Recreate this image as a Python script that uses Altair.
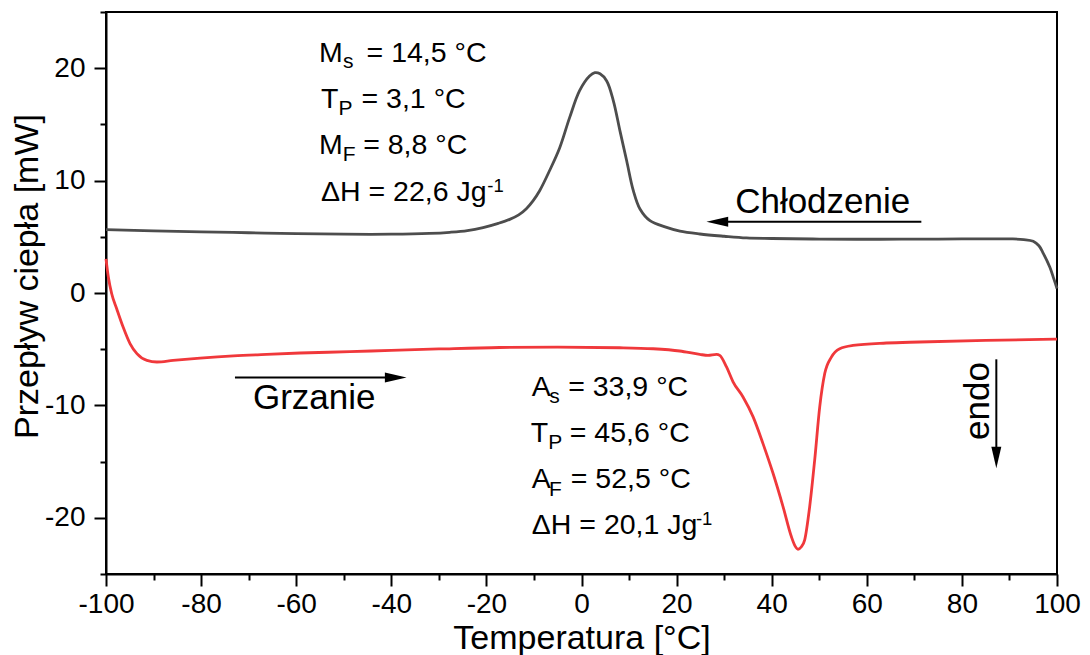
import altair as alt
import pandas as pd

FONT = "Liberation Sans"

# ---- data ----
cool_temp = [-100, -90, -80, -70, -60, -50, -40, -32, -27.7, -24, -20.7, -17.5, -15.1,
             -13.2, -11.6, -10.2, -8.8, -6.7, -4.6, -2.5, -0.4, 1.7, 2.8, 3.9, 5.3, 6.7,
             8.1, 9.5, 10.9, 12.3, 14.4, 17.9, 20.7, 24.9, 30, 34.7, 40, 50, 62.7, 75,
             90.7, 93, 95, 96.2, 97, 98.5, 99.3, 100]
cool_flow = [5.63, 5.53, 5.44, 5.36, 5.28, 5.23, 5.23, 5.3, 5.4, 5.55, 5.82, 6.2, 6.55,
             6.95, 7.5, 8.2, 9.1, 10.9, 12.9, 15.6, 18.0, 19.3, 19.6, 19.5, 18.86, 17.1,
             14.4, 11.76, 9.1, 7.47, 6.43, 5.84, 5.5, 5.25, 5.05, 4.9, 4.85, 4.8, 4.78, 4.8,
             4.81, 4.75, 4.6, 4.2, 3.62, 2.29, 1.3, 0.4]

heat_temp = [-100, -99.5, -98.8, -97.75, -96.4, -94.95, -93.5, -91.4, -89.3, -85.9, -80.2,
             -73.2, -66.2, -59.2, -48.7, -40, -30, -17.2, -5, 8.05, 15.05, 20.66, 24.87,
             26.6, 28.4, 29.07, 30.5, 31.87, 33.97, 36.07, 38.17, 40.28, 42.38, 44.13,
             44.9, 45.53, 46.2, 46.94, 47.99, 49.04, 50.1, 51.15, 52.55, 54.3, 57.1, 64.1,
             71.1, 85, 100]
heat_flow = [3.03, 1.4, -0.07, -1.4, -3.03, -4.5, -5.4, -6.0, -6.14, -6.0, -5.8,
             -5.6, -5.46, -5.34, -5.22, -5.1, -4.98, -4.85, -4.82, -4.87, -4.96, -5.16, -5.46,
             -5.55, -5.46, -5.55, -6.58, -7.9, -9.25, -11.0, -13.4, -16.04, -19.0, -21.67,
             -22.5, -22.8, -22.6, -21.96, -19.0, -14.86, -10.13, -7.17, -5.7, -4.95, -4.66, -4.45,
             -4.36, -4.22, -4.1]

x_major = [-100, -80, -60, -40, -20, 0, 20, 40, 60, 80, 100]
x_minor = [-90, -70, -50, -30, -10, 10, 30, 50, 70, 90]
y_major = [-20, -10, 0, 10, 20]
y_minor = [-25, -15, -5, 5, 15, 25]

# annotation texts (position in data units, font size)
note_text = ["M", "s", "= 14,5 °C",
             "T", "P", "= 3,1 °C",
             "M", "F", "= 8,8 °C",
             "ΔH = 22,6 Jg", "-1",
             "A", "s", "= 33,9 °C",
             "T", "P", "= 45,6 °C",
             "A", "F", "= 52,5 °C",
             "ΔH = 20,1 Jg", "-1",
             "Chłodzenie", "Grzanie"]
note_x = [-55.22, -50.17, -45.2,
          -54.80, -51.12, -46.26,
          -55.22, -50.22, -45.91,
          -54.80, -19.80,
          -10.45, -6.79, -2.8,
          -10.66, -6.98, -2.46,
          -10.45, -6.83, -2.25,
          -10.45, 24.07,
          32.31, -69.1]
note_y = [20.54, 19.99, 20.54,
          16.49, 15.84, 16.49,
          12.38, 11.76, 12.38,
          8.21, 9.01,
          -9.18, -9.83, -9.18,
          -13.24, -13.91, -13.24,
          -17.37, -18.05, -17.37,
          -21.43, -20.63,
          7.08, -10.36]
note_size = [28.5, 21, 28.5,
             28.5, 21, 28.5,
             28.5, 21, 28.5,
             28.5, 18.5,
             28.5, 21, 28.5,
             28.5, 21, 28.5,
             28.5, 21, 28.5,
             28.5, 18.5,
             35, 35]

# arrows: shaft from (x, y) to (x2, y2); head tip positions
arrow_x = [71.47, -72.88, 87.24]
arrow_x2 = [29.0, -39.0, 87.24]
arrow_y = [6.34, -7.52, -5.90]
arrow_y2 = [6.34, -7.52, -14.5]
tip_x = [26.28, -36.79, 87.24]
tip_y = [6.34, -7.52, -15.6]
tip_shape = ["M0,0L1,-0.23L1,0.23Z", "M0,0L-1,-0.23L-1,0.23Z", "M0,0L-0.23,-1L0.23,-1Z"]

cool = pd.DataFrame({"x": cool_temp, "y": cool_flow})
heat = pd.DataFrame({"x": heat_temp, "y": heat_flow})
notes = pd.DataFrame({"x": note_x, "y": note_y, "text": note_text, "size": note_size})
arrows = pd.DataFrame({"x": arrow_x, "x2": arrow_x2, "y": arrow_y, "y2": arrow_y2})
tips = pd.DataFrame({"x": tip_x, "y": tip_y, "shape": tip_shape})
endo = pd.DataFrame({"x": [85.68], "y": [-9.61], "text": ["endo"]})

xs = alt.Scale(domain=[-100, 100], nice=False, zero=False)
ys = alt.Scale(domain=[-25, 25], nice=False, zero=False)

x_axis = alt.Axis(
    values=x_major, orient="bottom", grid=False,
    tickSize=12, tickWidth=2, tickColor="black", domainColor="black", domainWidth=2,
    labelExpr="'' + datum.value",
    labelFont=FONT, labelFontSize=28, labelColor="black", labelPadding=26,
    labelBaseline="alphabetic", labelFlush=False, labelOverlap=False,
    title="Temperatura [°C]", titleFont=FONT, titleFontSize=34, titleFontWeight="normal",
    titleColor="black", titleY=74, titleBaseline="alphabetic",
)
y_axis = alt.Axis(
    values=y_major, orient="left", grid=False,
    tickSize=12, tickWidth=2, tickColor="black", domainColor="black", domainWidth=2,
    labelExpr="'' + datum.value",
    labelFont=FONT, labelFontSize=28, labelColor="black", labelPadding=9,
    labelBaseline="middle", labelFlush=False, labelOverlap=False,
    title="Przepływ ciepła [mW]", titleFont=FONT, titleFontSize=34, titleFontWeight="normal",
    titleColor="black", titleX=-69, titleY=264, titleAngle=270, titleAlign="center",
    titleBaseline="alphabetic",
)
x_minor_axis = alt.Axis(values=x_minor, orient="bottom", grid=False, tickSize=6, tickWidth=2,
                        tickColor="black", labels=False, domain=False, title=None)
y_minor_axis = alt.Axis(values=y_minor, orient="left", grid=False, tickSize=6, tickWidth=2,
                        tickColor="black", labels=False, domain=False, title=None)

X = alt.X("x:Q", scale=xs, axis=x_axis)
Y = alt.Y("y:Q", scale=ys, axis=y_axis)

minor = alt.Chart(cool).mark_line(opacity=0).encode(
    x=alt.X("x:Q", scale=xs, axis=x_minor_axis),
    y=alt.Y("y:Q", scale=ys, axis=y_minor_axis),
)

cool_line = alt.Chart(cool).mark_line(color="#4d4d4d", strokeWidth=2.8,
                                      interpolate="catmull-rom").encode(x=X, y=Y)
heat_line = alt.Chart(heat).mark_line(color="#f0383b", strokeWidth=2.8,
                                      interpolate="monotone").encode(x=X, y=Y)
shafts = alt.Chart(arrows).mark_rule(color="black", strokeWidth=2).encode(x=X, x2="x2:Q", y=Y, y2="y2:Q")
heads = alt.Chart(tips).mark_point(filled=True, color="black", opacity=1, size=1884, strokeWidth=0).encode(
    x=X, y=Y, shape=alt.Shape("shape:N", scale=None, legend=None),
)
texts = alt.Chart(notes).mark_text(align="left", baseline="alphabetic", font=FONT, color="black").encode(
    x=X, y=Y, text="text:N", size=alt.Size("size:Q", scale=None, legend=None),
)
endo_text = alt.Chart(endo).mark_text(align="center", baseline="alphabetic", angle=270, font=FONT,
                                      fontSize=35, color="black").encode(x=X, y=Y, text="text:N")

main = alt.layer(cool_line, heat_line, shafts, heads, texts, endo_text)

chart = alt.layer(minor, main).resolve_axis(x="independent", y="independent").properties(
    width=951, height=562,
    padding={"left": 106, "top": 12, "right": 33, "bottom": 81},
    autosize=alt.AutoSizeParams(type="none"),
    background="white",
).configure_view(stroke="black", strokeWidth=2)

chart.save("out.html", embed_options={"renderer": "svg", "actions": False})
